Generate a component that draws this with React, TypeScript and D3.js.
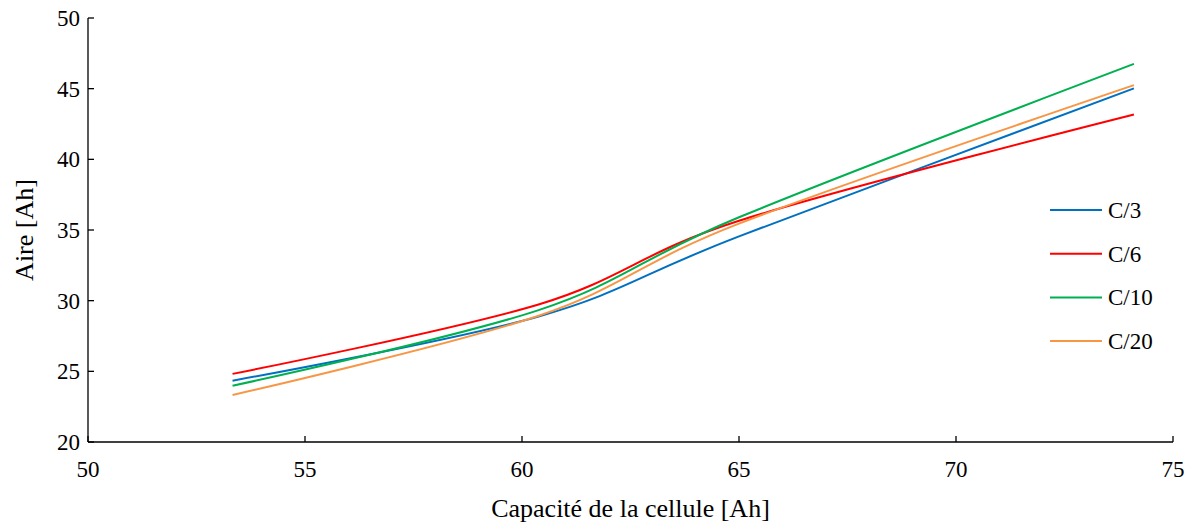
import React from "react";
import * as d3 from "d3";

const capacities = [53.33, 60.4, 65.0, 74.1];
const seriesNames = ["C/3", "C/6", "C/10", "C/20"];
const c3Values = [24.34, 28.9, 34.55, 45.02];
const c6Values = [24.82, 29.75, 35.65, 43.17];
const c10Values = [23.98, 29.35, 35.9, 46.75];
const c20Values = [23.33, 28.95, 35.45, 45.25];
const seriesColors = ["#0070C0", "#FF0000", "#00B050", "#F79646"];
const xTicks = [50, 55, 60, 65, 70, 75];
const yTicks = [20, 25, 30, 35, 40, 45, 50];

const W = 1193;
const H = 523;
const M = { left: 88, right: 20, top: 18, bottom: 81 };

export default function App() {
  const x = d3.scaleLinear().domain([50, 75]).range([M.left, W - M.right]);
  const y = d3.scaleLinear().domain([20, 50]).range([H - M.bottom, M.top]);
  const allValues = [c3Values, c6Values, c10Values, c20Values];
  const line = d3
    .line<[number, number]>()
    .x((d) => x(d[0]))
    .y((d) => y(d[1]))
    .curve(d3.curveCardinal.tension(0));
  const font = "'Liberation Serif', 'Times New Roman', serif";
  const x0 = x(50);
  const x1 = x(75);
  const yb = y(20);
  const yt = y(50);
  return (
    <>
      <style>{`body{margin:0}`}</style>
      <svg width={W} height={H} style={{ display: "block", background: "#fff" }} fontFamily={font}>
        {allValues.map((vals, i) => (
          <path
            key={seriesNames[i]}
            d={line(capacities.map((c, j) => [c, vals[j]] as [number, number])) || ""}
            fill="none"
            stroke={seriesColors[i]}
            strokeWidth={2}
          />
        ))}
        <line x1={x0} x2={x0} y1={yt} y2={yb} stroke="#000" strokeWidth={1.3} />
        <line x1={x0} x2={x1} y1={yb} y2={yb} stroke="#000" strokeWidth={1.3} />
        {yTicks.map((t) => (
          <g key={"y" + t}>
            <line x1={x0} x2={x0 + 6} y1={y(t)} y2={y(t)} stroke="#000" strokeWidth={1.3} />
            <text x={x0 - 8} y={y(t)} dy="0.35em" textAnchor="end" fontSize={23} fill="#000">
              {t}
            </text>
          </g>
        ))}
        {xTicks.map((t) => (
          <g key={"x" + t}>
            <line x1={x(t)} x2={x(t)} y1={yb} y2={yb - 6} stroke="#000" strokeWidth={1.3} />
            <text x={x(t)} y={yb + 27} dy="0.35em" textAnchor="middle" fontSize={23} fill="#000">
              {t}
            </text>
          </g>
        ))}
        <text
          transform={`translate(24,${(yt + yb) / 2}) rotate(-90)`}
          dy="0.35em"
          textAnchor="middle"
          fontSize={26}
          fill="#000"
        >
          Aire [Ah]
        </text>
        <text x={(x0 + x1) / 2} y={508} dy="0.35em" textAnchor="middle" fontSize={26} fill="#000">
          Capacité de la cellule [Ah]
        </text>
        {seriesNames.map((n, i) => {
          const ly = 210 + i * 43.7;
          return (
            <g key={"leg" + n}>
              <line x1={1050} x2={1102} y1={ly} y2={ly} stroke={seriesColors[i]} strokeWidth={2} />
              <text x={1108} y={ly} dy="0.35em" fontSize={23} fill="#000">
                {n}
              </text>
            </g>
          );
        })}
      </svg>
    </>
  );
}
